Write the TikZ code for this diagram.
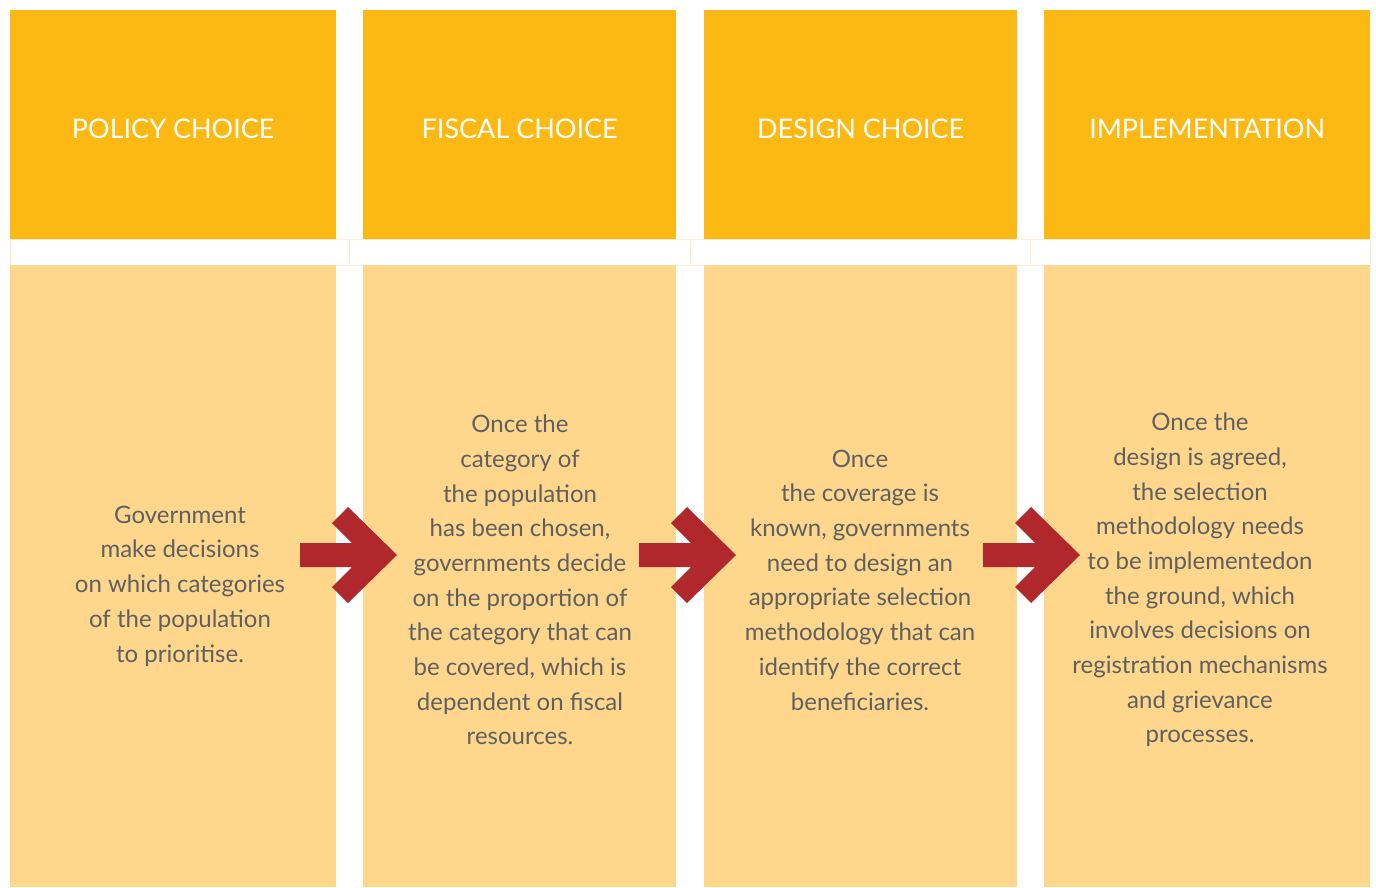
\documentclass[tikz,border=0pt]{standalone}
\usepackage{fontspec}
\setmainfont{Lato}
\definecolor{headyellow}{HTML}{FDB913}
\definecolor{bodyyellow}{HTML}{FED68C}
\definecolor{arrowred}{HTML}{B0282C}
\definecolor{textgray}{HTML}{606060}
\definecolor{bandline}{HTML}{FDF0D5}
\tikzset{
  head/.style={fill=headyellow, draw=none, inner sep=0pt, anchor=north west,
    minimum height=229pt, text height=27pt, text depth=0pt, text=white,
    font=\fontsize{27}{32}\selectfont},
  body/.style={fill=bodyyellow, draw=none, inner sep=0pt, anchor=north west,
    minimum height=622pt},
  bodytext/.style={align=center, text=textgray, inner sep=0pt,
    font=\fontsize{24}{34.7}\selectfont},
}
\begin{document}
\begin{tikzpicture}[x=1pt,y=-1pt]
      \useasboundingbox (0,0) rectangle (1376,887);
      % header row
      \node[head, minimum width=326pt] (head1) at (10,10) {POLICY CHOICE};
      \node[head, minimum width=313pt] (head2) at (363,10) {FISCAL CHOICE};
      \node[head, minimum width=313pt] (head3) at (704,10) {DESIGN CHOICE};
      \node[head, minimum width=326pt] (head4) at (1044,10) {IMPLEMENTATION};
      % thin band between rows
      \draw[bandline] (10,239) rectangle (349,265);
      \draw[bandline] (349,239) rectangle (690,265);
      \draw[bandline] (690,239) rectangle (1030,265);
      \draw[bandline] (1030,239) rectangle (1370,265);
      % body row
      \node[body, minimum width=326pt] (body1) at (10,265) {};
      \node[body, minimum width=313pt] (body2) at (363,265) {};
      \node[body, minimum width=313pt] (body3) at (704,265) {};
      \node[body, minimum width=326pt] (body4) at (1044,265) {};
      \node[bodytext] (txt1) at (180,586) {Government\\make decisions\\on which categories\\of the population\\to prioritise.};
      \node[bodytext] (txt2) at (520,580) {Once the\\category of\\the population\\has been chosen,\\governments decide\\on the proportion of\\the category that can\\be covered, which is\\dependent on fiscal\\resources.};
      \node[bodytext] (txt3) at (860,580) {Once\\the coverage is\\known, governments\\need to design an\\appropriate selection\\methodology that can\\identify the correct\\beneficiaries.};
      \node[bodytext] (txt4) at (1200,580) {Once the\\design is agreed,\\the selection\\methodology needs\\to be implementedon\\the ground, which\\involves decisions on\\registration mechanisms\\and grievance\\processes.};
      % red chevron arrows
      \foreach \x in {300,639,983}
        \fill[arrowred] (\x,543) -- (\x+52,543) -- (\x+32,523) -- (\x+48,507)
          -- (\x+97,555) -- (\x+48,603) -- (\x+32,587) -- (\x+52,567)
          -- (\x,567) -- cycle;
    \end{tikzpicture}
\end{document}
